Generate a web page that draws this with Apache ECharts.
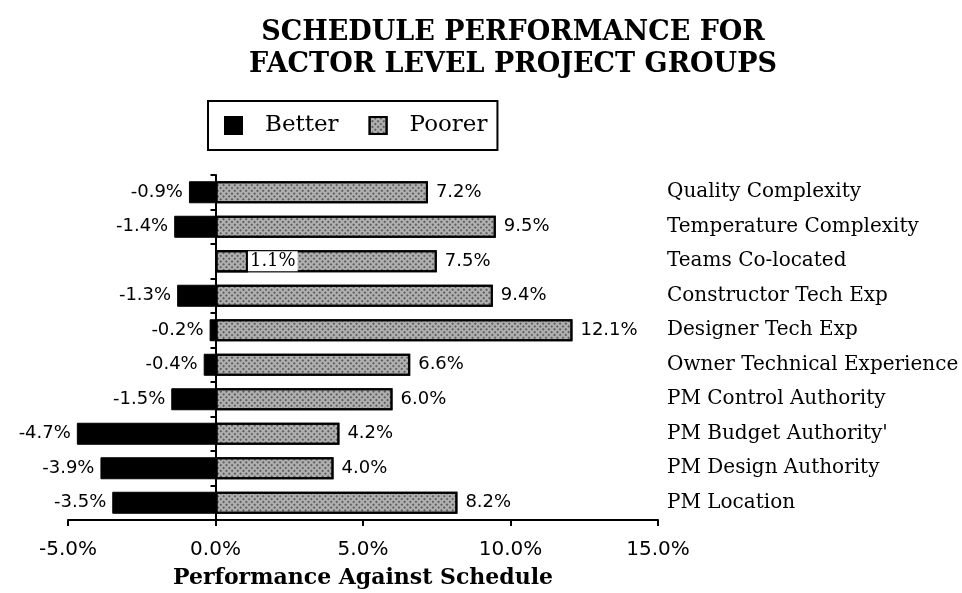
<!DOCTYPE html>
<html>
<head>
<meta charset="utf-8">
<title>Schedule Performance</title>
<script src="https://cdn.jsdelivr.net/npm/echarts@6/dist/echarts.min.js"></script>
<style>
    html, body { margin: 0; padding: 0; background: #fff; }
    #chart { width: 962px; height: 593px; }
</style>
</head>
<body>
<div id="chart"></div>
<script>
    // data
    var categories = [
        'Quality Complexity',
        'Temperature Complexity',
        'Teams Co-located',
        'Constructor Tech Exp',
        'Designer Tech Exp',
        'Owner Technical Experience',
        'PM Control Authority',
        "PM Budget Authority'",
        'PM Design Authority',
        'PM Location'
    ];
    var betterData = [-0.9, -1.4, 1.1, -1.3, -0.2, -0.4, -1.5, -4.7, -3.9, -3.5];
    var poorerData = [7.2, 9.5, 7.5, 9.4, 12.1, 6.6, 6.0, 4.2, 4.0, 8.2];
    var xTicks = [-5, 0, 5, 10, 15];

    var serif = 'DejaVu Serif';
    var sans = 'DejaVu Sans';

    var hatch = {
        color: '#b0b0b0',
        borderColor: '#000',
        borderWidth: 2,
        decal: {
            symbol: 'rect',
            symbolSize: 1,
            color: 'rgba(0,0,0,0.45)',
            dashArrayX: [2, 2],
            dashArrayY: [2, 2],
            rotation: 0.785
        }
    };

    function pct (v) {
        return v.toFixed(1) + '%';
    }

    var chart = echarts.init(document.getElementById('chart'));
    chart.setOption({
        animation: false,
        title: {
            text: 'SCHEDULE PERFORMANCE FOR\nFACTOR LEVEL PROJECT GROUPS',
            left: 508,
            top: 12,
            textAlign: 'center',
            textStyle: {
                fontFamily: serif,
                fontWeight: 'bold',
                fontSize: 27,
                lineHeight: 32,
                color: '#000'
            }
        },
        legend: {
            data: ['Better', 'Poorer'],
            left: 208,
            top: 101,
            orient: 'horizontal',
            icon: 'rect',
            itemWidth: 17,
            itemHeight: 17,
            itemGap: 30,
            padding: [13, 10, 13, 16],
            borderColor: '#000',
            borderWidth: 2,
            textStyle: {
                fontFamily: serif,
                fontSize: 23,
                color: '#000',
                padding: [0, 0, 0, 18]
            }
        },
        grid: {
            left: 68,
            right: 304,
            top: 175,
            bottom: 73,
            containLabel: false,
            outerBoundsMode: 'none'
        },
        xAxis: {
            type: 'value',
            min: -5,
            max: 15,
            interval: 5,
            name: 'Performance Against Schedule',
            nameLocation: 'middle',
            nameGap: 47,
            nameTextStyle: {
                fontFamily: serif,
                fontWeight: 'bold',
                fontSize: 22,
                color: '#000'
            },
            axisLine: { show: true, onZero: false, lineStyle: { color: '#000', width: 2 } },
            axisTick: { show: true, length: 6, lineStyle: { color: '#000', width: 2 } },
            splitLine: { show: false },
            axisLabel: {
                margin: 20,
                fontFamily: sans,
                fontSize: 20,
                color: '#000',
                formatter: function (v) { return xTicks.indexOf(v) >= 0 ? pct(v) : ''; }
            }
        },
        yAxis: [
            {
                type: 'category',
                data: categories,
                inverse: true,
                position: 'right',
                axisLine: { show: false, onZero: false },
                axisTick: { show: false },
                axisLabel: {
                    margin: 9,
                    fontFamily: serif,
                    fontSize: 20,
                    color: '#000'
                }
            },
            {
                type: 'category',
                data: categories,
                inverse: true,
                position: 'left',
                axisLine: { show: true, onZero: true, lineStyle: { color: '#000', width: 2 } },
                axisTick: { show: true, length: 5, lineStyle: { color: '#000', width: 2 } },
                axisLabel: { show: false }
            }
        ],
        series: [
            {
                name: 'Poorer',
                type: 'bar',
                z: 2,
                barWidth: 22,
                barGap: '-100%',
                itemStyle: hatch,
                label: {
                    show: true,
                    position: 'right',
                    distance: 8,
                    fontFamily: sans,
                    fontSize: 18,
                    color: '#000',
                    formatter: function (p) { return pct(p.value); }
                },
                data: poorerData
            },
            {
                name: 'Better',
                type: 'bar',
                z: 3,
                barWidth: 22,
                barGap: '-100%',
                itemStyle: { color: '#000', borderColor: '#000', borderWidth: 1 },
                label: {
                    show: true,
                    position: 'left',
                    distance: 6,
                    fontFamily: sans,
                    fontSize: 18,
                    color: '#000',
                    formatter: function (p) { return pct(p.value); }
                },
                data: betterData.map(function (v) {
                    if (v > 0) {
                        return {
                            value: v,
                            itemStyle: hatch,
                            label: {
                                position: 'right',
                                distance: 0,
                                fontFamily: serif,
                                fontSize: 18,
                                backgroundColor: '#fff',
                                padding: [1, 2]
                            }
                        };
                    }
                    return v;
                })
            }
        ]
    });
</script>
</body>
</html>
